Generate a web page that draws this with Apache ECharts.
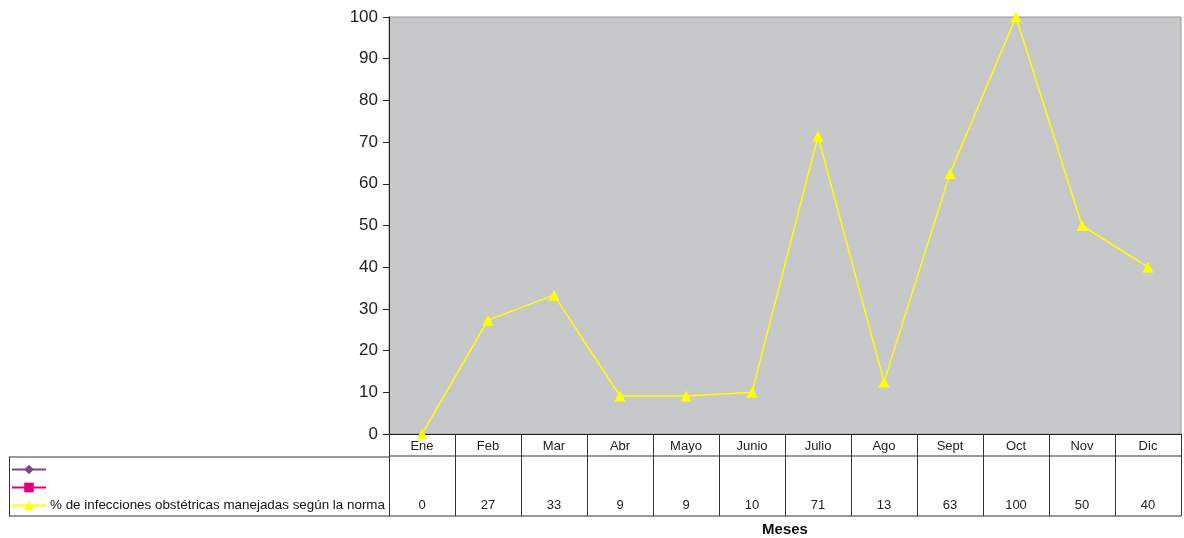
<!DOCTYPE html>
<html>
<head>
<meta charset="utf-8">
<script src="https://cdn.jsdelivr.net/npm/echarts@6/dist/echarts.min.js"></script>
<style>html,body{margin:0;padding:0;background:#fff}#c{width:1184px;height:538px}</style>
</head>
<body>
<div id="c"></div>
<script>
const categories = ['Ene','Feb','Mar','Abr','Mayo','Junio','Julio','Ago','Sept','Oct','Nov','Dic'];
const seriesName = '% de infecciones obstétricas manejadas según la norma';
const values = [0, 27.3, 33.3, 9.1, 9.1, 10, 71.4, 12.5, 62.5, 100, 50, 40];
const tableValues = [0, 27, 33, 9, 9, 10, 71, 13, 63, 100, 50, 40];
const yMin = 0, yMax = 100, yStep = 10;

const FONT = 'Liberation Sans, Arial, sans-serif';
const G = {left: 389, right: 1181, top: 17, bottom: 434};
const tableRow1 = 456, tableBottom = 516, legendLeft = 9;

const chart = echarts.init(document.getElementById('c'), null, {renderer: 'canvas'});
const line = (x1,y1,x2,y2,c) => ({type:'line', silent:true, z:100, shape:{x1,y1,x2,y2}, style:{stroke:c||'#333', lineWidth:1}});

chart.setOption({
  animation: false,
  textStyle: {fontFamily: FONT},
  grid: {left: G.left, right: 1184 - G.right, top: G.top, bottom: 538 - G.bottom,
         outerBoundsMode: 'none', containLabel: false,
         show: true, backgroundColor: '#c7c8ca', borderColor: '#9a9a9a', borderWidth: 1},
  legend: {
    orient: 'vertical', left: 6, top: 458, itemWidth: 34, itemHeight: 12, itemGap: 5,
    textStyle: {fontSize: 13.4, color: '#111', fontFamily: FONT, padding: [0, 0, 0, -1]},
    data: [' ', '  ', seriesName]
  },
  xAxis: [{
    type: 'category', data: categories, boundaryGap: true, position: 'bottom',
    axisLine: {show: true, lineStyle: {color: '#222', width: 1}},
    axisTick: {show: true, length: tableBottom - G.bottom, inside: false, lineStyle: {color: '#333'}},
    axisLabel: {fontSize: 13, color: '#222', margin: 6, fontFamily: FONT},
    splitLine: {show: false}
  }, {
    type: 'category', data: tableValues.map(String), boundaryGap: true, position: 'bottom',
    offset: 65,
    axisLine: {show: false}, axisTick: {show: false},
    axisLabel: {fontSize: 13, color: '#222', margin: 0, fontFamily: FONT},
    name: 'Meses', nameLocation: 'middle', nameGap: 23,
    nameTextStyle: {fontSize: 15, fontWeight: 'bold', color: '#111', fontFamily: FONT}
  }],
  yAxis: {
    type: 'value', min: yMin, max: yMax, interval: yStep,
    axisLine: {show: true, lineStyle: {color: '#222'}},
    axisTick: {show: true, length: 6, lineStyle: {color: '#222'}},
    axisLabel: {fontSize: 17, color: '#222', margin: 11, fontFamily: FONT},
    splitLine: {show: false}
  },
  series: [
    {name: ' ', type: 'line', data: [], symbol: 'diamond', symbolSize: 9,
     itemStyle: {color: '#7b4a80'}, lineStyle: {color: '#7b4a80', width: 1.5}},
    {name: '  ', type: 'line', data: [], symbol: 'rect', symbolSize: 9,
     itemStyle: {color: '#e6007e'}, lineStyle: {color: '#e6007e', width: 1.5}},
    {name: seriesName, type: 'line', data: values, symbol: 'triangle', symbolSize: 11,
     clip: false, itemStyle: {color: '#ffff00'}, lineStyle: {color: '#ffff00', width: 1.5},
     emphasis: {disabled: true}}
  ],
  graphic: [
    line(G.left, tableRow1, G.right, tableRow1),
    line(legendLeft, tableRow1 + 1, G.left, tableRow1 + 1),
    line(legendLeft, tableBottom, G.right, tableBottom),
    line(legendLeft + 0.5, tableRow1 + 1, legendLeft + 0.5, tableBottom)
  ]
});
</script>
</body>
</html>
